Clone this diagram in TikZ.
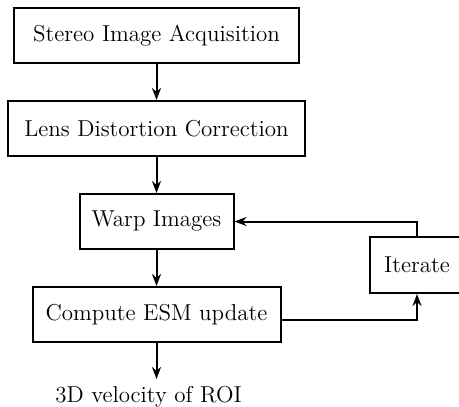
\documentclass[tikz,border=0pt]{standalone}
\usetikzlibrary{positioning,arrows.meta}

\tikzset{
	stage/.style={draw, line width=1pt, minimum height=27.5pt, inner sep=0pt,
		font=\fontsize{11.5pt}{13.5pt}\selectfont},
}

\begin{document}
\begin{tikzpicture}[node distance=18pt, auto, >={Stealth[length=6pt,width=4.5pt]}]

	\useasboundingbox (0,0) rectangle (229.5pt,-203pt);

	%% Pipeline
	\node[stage, minimum width=142.5pt] (acq) at (78.25pt,-17.75pt) {Stereo Image Acquisition};
	\node[stage, minimum width=148.5pt] (lens) [below =of acq] {Lens Distortion Correction};
	\node[stage, minimum width=77pt] (warp) [below =of lens] {Warp Images};
	\node[stage, minimum width=124pt] (esm) [below =of warp] {Compute ESM update};
	\node[font=\fontsize{11.5pt}{13.5pt}\selectfont] (out) [below =of esm, xshift=-4pt] {3D velocity of ROI};

	\draw [->,line width=1pt] (acq) -- (lens);
	\draw [->,line width=1pt] (lens) -- (warp);
	\draw [->,line width=1pt] (warp) -- (esm);
	\draw [->,line width=1pt] (esm.south) -- (esm.south |- out.north);

	%% Loop
	\node[stage, minimum width=47pt, minimum height=28pt] (iter) at (208.5pt,-132.5pt) {Iterate};
	\draw [->,line width=1pt] (iter.north) |- (warp.east);
	\draw [->,line width=1pt] ([yshift=-2.75pt]esm.east) -| (iter.south);

\end{tikzpicture}
\end{document}
